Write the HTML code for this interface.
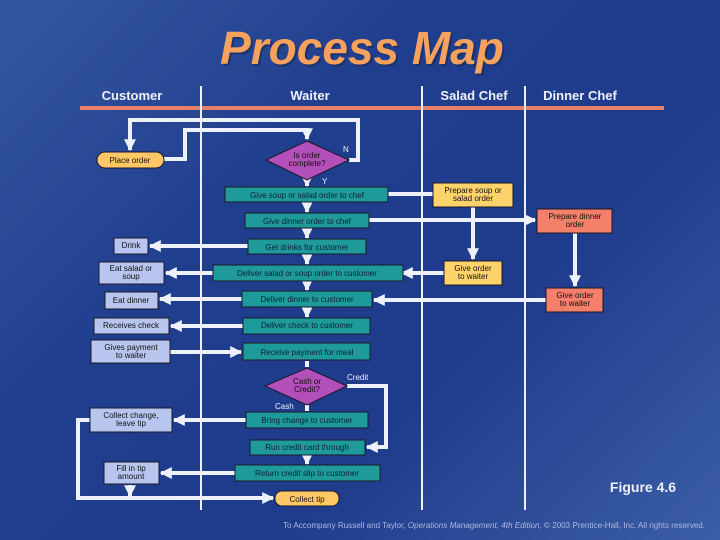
<!DOCTYPE html>
<html><head><meta charset="utf-8"><style>
html,body{margin:0;padding:0;}
body{width:720px;height:540px;overflow:hidden;background:linear-gradient(135deg,#3557a0 0%,#203e8e 35%,#1f3c8c 65%,#3c5ea6 100%);font-family:"Liberation Sans",sans-serif;}
svg{position:absolute;left:0;top:0;}
text{font-family:"Liberation Sans",sans-serif;}
</style></head><body>
<svg width="720" height="540" viewBox="0 0 720 540" xmlns="http://www.w3.org/2000/svg">
<defs>
<marker id="a" viewBox="0 0 10 10" refX="9" refY="5" markerWidth="3" markerHeight="3" orient="auto"><path d="M0,0L10,5L0,10z" fill="#eef0fa"/></marker>
</defs>
<text x="364" y="66" text-anchor="middle" font-size="46" font-weight="bold" font-style="italic" fill="#1a2a55" opacity="0.6">Process Map</text>
<text x="362" y="64" text-anchor="middle" font-size="46" font-weight="bold" font-style="italic" fill="#f6a25e">Process Map</text>
<g font-size="13" font-weight="bold" fill="#eef0fa" text-anchor="middle">
<text x="132" y="100">Customer</text><text x="310" y="100">Waiter</text><text x="474" y="100">Salad Chef</text><text x="580" y="100">Dinner Chef</text>
</g>
<rect x="80" y="106" width="584" height="4" fill="#e8806a"/>
<g stroke="#eef0fa" stroke-width="2">
<line x1="201" y1="86" x2="201" y2="510"/><line x1="422" y1="86" x2="422" y2="510"/><line x1="525" y1="86" x2="525" y2="510"/>
</g>
<g stroke="#eef0fa" stroke-width="4" fill="none">
<polyline points="164,159 185,159 185,130 307,130 307,139" marker-end="url(#a)"/>
<polyline points="349,160 358,160 358,120 130,120 130,150" marker-end="url(#a)"/>
<line x1="307" y1="181" x2="307" y2="186" marker-end="url(#a)"/>
<line x1="388" y1="194" x2="433" y2="194"/>
<line x1="307" y1="203" x2="307" y2="212" marker-end="url(#a)"/>
<line x1="369" y1="220" x2="535" y2="220" marker-end="url(#a)"/>
<line x1="307" y1="229" x2="307" y2="238" marker-end="url(#a)"/>
<line x1="248" y1="246" x2="150" y2="246" marker-end="url(#a)"/>
<line x1="307" y1="255" x2="307" y2="264" marker-end="url(#a)"/>
<line x1="213" y1="273" x2="166" y2="273" marker-end="url(#a)"/>
<line x1="473" y1="207" x2="473" y2="259" marker-end="url(#a)"/>
<line x1="444" y1="273" x2="402" y2="273" marker-end="url(#a)"/>
<line x1="575" y1="233" x2="575" y2="286" marker-end="url(#a)"/>
<line x1="546" y1="300" x2="374" y2="300" marker-end="url(#a)"/>
<line x1="307" y1="281" x2="307" y2="290" marker-end="url(#a)"/>
<line x1="242" y1="299" x2="160" y2="299" marker-end="url(#a)"/>
<line x1="307" y1="308" x2="307" y2="317" marker-end="url(#a)"/>
<line x1="243" y1="326" x2="171" y2="326" marker-end="url(#a)"/>
<line x1="170" y1="352" x2="241" y2="352" marker-end="url(#a)"/>
<line x1="307" y1="361" x2="307" y2="367"/>
<polyline points="347,386 386,386 386,447 367,447" marker-end="url(#a)"/>
<line x1="307" y1="405" x2="307" y2="411"/>
<line x1="246" y1="420" x2="174" y2="420" marker-end="url(#a)"/>
<line x1="307" y1="455" x2="307" y2="464" marker-end="url(#a)"/>
<line x1="235" y1="473" x2="161" y2="473" marker-end="url(#a)"/>
<line x1="130" y1="485" x2="130" y2="496" marker-end="url(#a)"/>
<polyline points="90,420 78,420 78,498 273,498" marker-end="url(#a)"/>
</g>
<g stroke="#1a1a2a" stroke-width="1">
<rect x="97" y="152" width="67" height="16" rx="8" fill="#ffc766"/>
<polygon points="307,141 349,160 307,180 266,160" fill="#b34fb8"/>
<rect x="225" y="187" width="163" height="15" fill="#1e9a9a"/>
<rect x="245" y="213" width="124" height="15" fill="#1e9a9a"/>
<rect x="248" y="239" width="118" height="15" fill="#1e9a9a"/>
<rect x="213" y="265" width="190" height="16" fill="#1e9a9a"/>
<rect x="242" y="291" width="130" height="16" fill="#1e9a9a"/>
<rect x="243" y="318" width="127" height="16" fill="#1e9a9a"/>
<rect x="243" y="343" width="127" height="17" fill="#1e9a9a"/>
<polygon points="307,368 347,386 307,405 265,386" fill="#b34fb8"/>
<rect x="246" y="412" width="122" height="16" fill="#1e9a9a"/>
<rect x="250" y="440" width="115" height="15" fill="#1e9a9a"/>
<rect x="235" y="465" width="145" height="16" fill="#1e9a9a"/>
<rect x="275" y="491" width="64" height="15" rx="7" fill="#ffc766"/>
<rect x="114" y="238" width="34" height="16" fill="#b8c6ef"/>
<rect x="99" y="262" width="65" height="22" fill="#b8c6ef"/>
<rect x="105" y="292" width="53" height="17" fill="#b8c6ef"/>
<rect x="94" y="318" width="75" height="16" fill="#b8c6ef"/>
<rect x="91" y="340" width="79" height="23" fill="#b8c6ef"/>
<rect x="90" y="408" width="82" height="24" fill="#b8c6ef"/>
<rect x="104" y="462" width="55" height="22" fill="#b8c6ef"/>
<rect x="433" y="183" width="80" height="24" fill="#ffd36b"/>
<rect x="444" y="261" width="58" height="24" fill="#ffd36b"/>
<rect x="537" y="209" width="75" height="24" fill="#f47f6a"/>
<rect x="546" y="288" width="57" height="24" fill="#f47f6a"/>
</g>
<g font-size="8" fill="#111" text-anchor="middle">
<text x="130" y="163">Place order</text>
<text x="307" y="158">Is order</text><text x="307" y="166">complete?</text>
<g fill="#0d1f3a">
<text x="307" y="198">Give soup or salad order to chef</text>
<text x="307" y="224">Give dinner order to chef</text>
<text x="307" y="250">Get drinks for customer</text>
<text x="307" y="276">Deliver salad or soup order to customer</text>
<text x="307" y="302">Deliver dinner to customer</text>
<text x="307" y="328">Deliver check to customer</text>
<text x="307" y="355">Receive payment for meal</text>
<text x="307" y="423">Bring change to customer</text>
<text x="307" y="450">Run credit card through</text>
<text x="307" y="476">Return credit slip to customer</text>
</g>
<text x="307" y="384">Cash or</text><text x="307" y="392">Credit?</text>
<text x="307" y="502">Collect tip</text>
<text x="131" y="248">Drink</text>
<text x="131" y="271">Eat salad or</text><text x="131" y="279">soup</text>
<text x="131" y="303">Eat dinner</text>
<text x="131" y="328">Receives check</text>
<text x="131" y="350">Gives payment</text><text x="131" y="358">to waiter</text>
<text x="131" y="418">Collect change,</text><text x="131" y="426">leave tip</text>
<text x="131" y="471">Fill in tip</text><text x="131" y="479">amount</text>
<text x="473" y="193">Prepare soup or</text><text x="473" y="201">salad order</text>
<text x="473" y="271">Give order</text><text x="473" y="279">to waiter</text>
<text x="575" y="219">Prepare dinner</text><text x="575" y="227">order</text>
<text x="575" y="298">Give order</text><text x="575" y="306">to waiter</text>
</g>
<g font-size="8" fill="#eef0fa">
<text x="343" y="152">N</text><text x="322" y="184">Y</text>
<text x="347" y="380">Credit</text><text x="275" y="409">Cash</text>
</g>
<text x="643" y="492" text-anchor="middle" font-size="14" font-weight="bold" fill="#eef0fa">Figure 4.6</text>
<text x="494" y="528" text-anchor="middle" font-size="8" textLength="422" lengthAdjust="spacingAndGlyphs" fill="#aab8e0">To Accompany Russell and Taylor, <tspan font-style="italic">Operations Management, 4th Edition</tspan>, © 2003 Prentice-Hall, Inc. All rights reserved.</text>
</svg>
</body></html>
